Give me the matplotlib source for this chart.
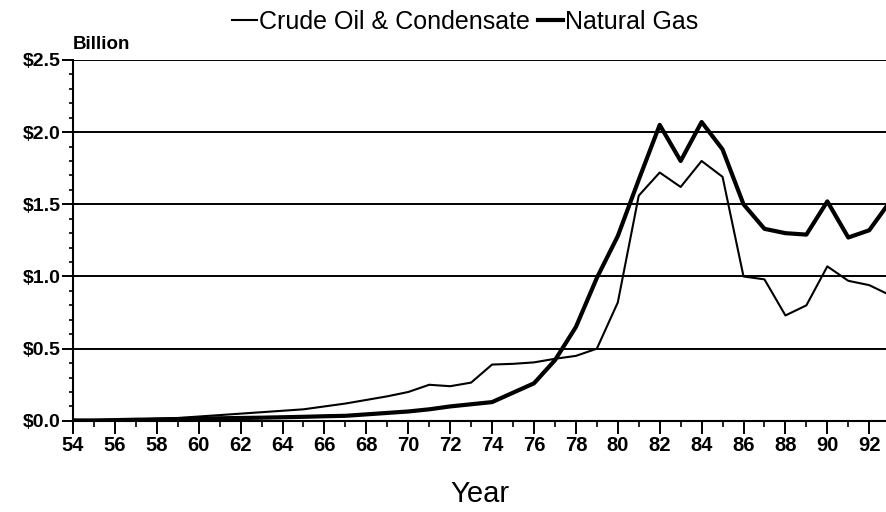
import matplotlib
matplotlib.use("Agg")
import matplotlib.pyplot as plt
from matplotlib.ticker import MultipleLocator

plt.rcParams["font.family"] = ["Liberation Sans", "DejaVu Sans"]

years = list(range(54, 94))

# crude oil & condensate, billion $
oil = [0.005, 0.005, 0.008, 0.01, 0.015, 0.02, 0.03, 0.04, 0.05, 0.06,
       0.07, 0.08, 0.10, 0.12, 0.145, 0.17, 0.20, 0.25, 0.24, 0.265,
       0.39, 0.395, 0.405, 0.43, 0.45, 0.50, 0.82, 1.56, 1.72, 1.62,
       1.80, 1.69, 1.00, 0.98, 0.73, 0.80, 1.07, 0.97, 0.94, 0.87]

# natural gas, billion $
gas = [0.003, 0.003, 0.005, 0.008, 0.01, 0.012, 0.015, 0.018, 0.02, 0.022,
       0.025, 0.028, 0.032, 0.035, 0.045, 0.055, 0.065, 0.08, 0.10, 0.115,
       0.13, 0.195, 0.26, 0.42, 0.65, 0.99, 1.28, 1.67, 2.05, 1.80,
       2.07, 1.88, 1.50, 1.33, 1.30, 1.29, 1.52, 1.27, 1.32, 1.52]

y_ticks = [0.0, 0.5, 1.0, 1.5, 2.0, 2.5]
y_labels = [r"\$0.0", r"\$0.5", r"\$1.0", r"\$1.5", r"\$2.0", r"\$2.5"]
x_ticks = list(range(54, 93, 2))
x_labels = [str(y) for y in x_ticks]

fig = plt.figure(figsize=(8.86, 5.12), dpi=100)
ax = fig.add_axes([0.0824, 0.178, 0.9176, 0.705])

# horizontal rules
for yv in y_ticks[1:]:
    ax.axhline(yv, color="black", lw=1.4, zorder=1)

l_oil, = ax.plot(years, oil, color="black", lw=1.5, zorder=3,
                 label="Crude Oil & Condensate")
l_gas, = ax.plot(years, gas, color="black", lw=3.0, zorder=3,
                 label="Natural Gas")

ax.set_xlim(54, 92.8)
ax.set_ylim(0, 2.5)

ax.set_yticks(y_ticks)
ax.set_yticklabels(y_labels, fontsize=14, fontweight="bold")
ax.yaxis.set_minor_locator(MultipleLocator(0.1))
ax.set_xticks(x_ticks)
ax.set_xticklabels(x_labels, fontsize=14.5, fontweight="bold")
ax.xaxis.set_minor_locator(MultipleLocator(1))

ax.tick_params(axis="y", which="major", direction="out", length=8, width=1.4, pad=1)
ax.tick_params(axis="y", which="minor", direction="out", length=3, width=1.2)
ax.tick_params(axis="x", which="major", direction="out", length=9, width=1.4, pad=2)
ax.tick_params(axis="x", which="minor", direction="out", length=4, width=1.2)

for s in ["top", "right"]:
    ax.spines[s].set_visible(False)
ax.spines["left"].set_linewidth(1.5)
ax.spines["bottom"].set_linewidth(1.5)

ax.text(0.0, 1.02, "Billion", transform=ax.transAxes, fontsize=13.5,
        fontweight="bold", ha="left", va="bottom")

ax.set_xlabel("Year", fontsize=21, labelpad=18)

fig.legend(handles=[l_oil, l_gas], loc="center", bbox_to_anchor=(0.525, 0.957),
           ncol=2, frameon=False, fontsize=18, handlelength=1.0,
           handletextpad=0.1, columnspacing=0.3)

fig.savefig("out.png", dpi=100)
